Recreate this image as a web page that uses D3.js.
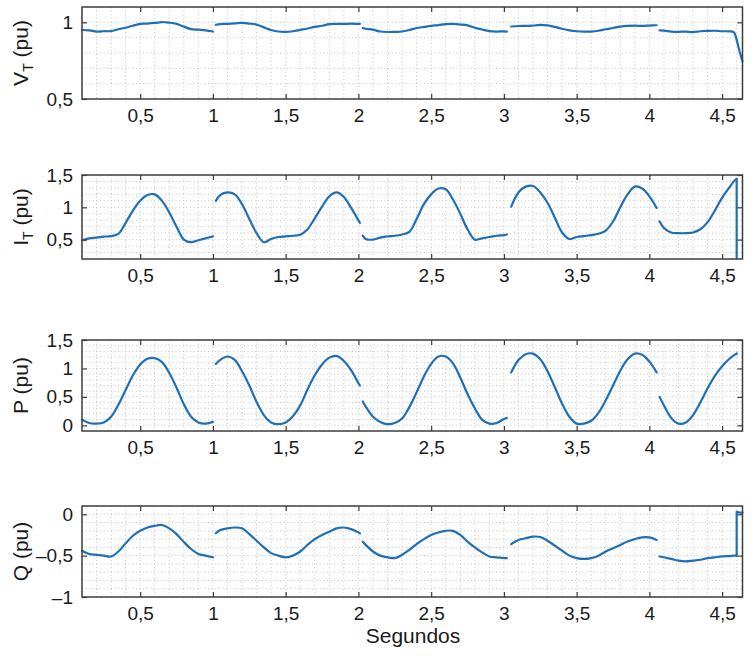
<!DOCTYPE html>
<html><head><meta charset="utf-8">
<script src="https://cdn.jsdelivr.net/npm/d3@7"></script>
<style>body{margin:0;background:#fff}text{font-family:"Liberation Sans",Arial,sans-serif;fill:#1a1a1a}</style>
</head><body><svg id="c" width="754" height="660"></svg>
<script>
// shared time axis (s); a null value in a series marks a gap in the record
const time = [
0.10,0.15,0.20,0.25,0.30,0.35,0.40,0.45,0.50,0.55,0.60,0.65,0.70,0.75,0.80,0.85,0.90,0.95,1.00,
1.01,
1.02,1.05,1.10,1.15,1.20,1.25,1.30,1.35,1.40,1.45,1.50,1.55,1.60,1.65,1.70,1.75,1.80,1.85,1.90,1.95,2.00,2.01,
2.02,
2.03,2.05,2.10,2.15,2.20,2.25,2.30,2.35,2.40,2.45,2.50,2.55,2.60,2.65,2.70,2.75,2.80,2.85,2.90,2.95,3.00,3.02,
3.035,
3.05,3.10,3.15,3.20,3.25,3.30,3.35,3.40,3.45,3.50,3.55,3.60,3.65,3.70,3.75,3.80,3.85,3.90,3.95,4.00,4.05,
4.06,
4.07,4.10,4.15,4.20,4.25,4.30,4.35,4.40,4.45,4.50,4.55,4.58,4.60,4.60,4.62,4.64];

const vtValues = [
0.950,0.948,0.940,0.942,0.943,0.955,0.965,0.978,0.990,0.992,0.996,1.002,0.998,0.990,0.972,0.956,0.952,0.948,0.940,
null,
0.984,0.988,0.990,0.993,0.997,0.992,0.985,0.967,0.950,0.940,0.938,0.942,0.951,0.960,0.970,0.978,0.988,0.990,0.990,0.991,0.990,0.990,
null,
0.962,0.958,0.952,0.940,0.937,0.938,0.940,0.950,0.963,0.970,0.977,0.982,0.988,0.990,0.986,0.980,0.965,0.953,0.943,0.940,0.941,0.940,
null,
0.973,0.976,0.977,0.978,0.984,0.980,0.970,0.958,0.948,0.942,0.940,0.940,0.945,0.955,0.963,0.972,0.977,0.978,0.977,0.979,0.981,
null,
0.947,0.946,0.940,0.938,0.940,0.936,0.942,0.944,0.945,0.942,0.941,0.935,0.886,0.886,0.810,0.745];

const itValues = [
0.49,0.52,0.53,0.545,0.555,0.59,0.76,0.95,1.10,1.19,1.20,1.10,0.92,0.70,0.50,0.46,0.49,0.52,0.55,
null,
1.10,1.19,1.23,1.20,1.05,0.82,0.60,0.46,0.51,0.54,0.55,0.56,0.575,0.66,0.83,1.01,1.17,1.23,1.16,0.99,0.80,0.76,
null,
0.56,0.51,0.50,0.53,0.55,0.56,0.58,0.62,0.82,1.05,1.20,1.29,1.28,1.12,0.90,0.66,0.50,0.52,0.54,0.56,0.57,0.58,
null,
1.01,1.23,1.32,1.33,1.23,1.07,0.84,0.61,0.51,0.54,0.555,0.57,0.59,0.64,0.78,1.00,1.20,1.32,1.29,1.17,0.99,
null,
0.78,0.68,0.61,0.60,0.60,0.61,0.66,0.77,0.95,1.15,1.31,1.40,1.44,0.21,null,null];

const pValues = [
0.10,0.04,0.03,0.05,0.15,0.36,0.62,0.88,1.07,1.17,1.18,1.11,0.92,0.66,0.37,0.15,0.05,0.03,0.06,
null,
1.08,1.15,1.21,1.15,0.95,0.70,0.41,0.18,0.05,0.02,0.05,0.16,0.35,0.63,0.88,1.07,1.19,1.22,1.13,0.97,0.74,0.70,
null,
0.42,0.33,0.15,0.06,0.02,0.04,0.12,0.32,0.58,0.86,1.08,1.21,1.21,1.09,0.84,0.55,0.30,0.10,0.03,0.04,0.11,0.13,
null,
0.93,1.15,1.25,1.26,1.16,0.95,0.67,0.38,0.15,0.03,0.03,0.08,0.22,0.44,0.70,0.96,1.16,1.26,1.24,1.12,0.93,
null,
0.50,0.35,0.13,0.03,0.05,0.18,0.40,0.65,0.87,1.04,1.17,1.23,1.26,null,null,null];

const qValues = [
-0.44,-0.48,-0.49,-0.50,-0.51,-0.45,-0.35,-0.26,-0.20,-0.16,-0.14,-0.13,-0.17,-0.24,-0.335,-0.42,-0.48,-0.50,-0.52,
null,
-0.23,-0.19,-0.17,-0.16,-0.17,-0.24,-0.32,-0.40,-0.47,-0.50,-0.52,-0.50,-0.45,-0.37,-0.30,-0.25,-0.21,-0.17,-0.16,-0.18,-0.22,-0.23,
null,
-0.33,-0.37,-0.45,-0.50,-0.52,-0.53,-0.49,-0.43,-0.36,-0.30,-0.25,-0.22,-0.20,-0.20,-0.25,-0.33,-0.40,-0.46,-0.51,-0.52,-0.53,-0.53,
null,
-0.36,-0.31,-0.29,-0.27,-0.275,-0.32,-0.38,-0.44,-0.50,-0.53,-0.54,-0.53,-0.50,-0.45,-0.41,-0.37,-0.33,-0.30,-0.28,-0.28,-0.31,
null,
-0.51,-0.52,-0.54,-0.56,-0.57,-0.56,-0.55,-0.53,-0.52,-0.51,-0.505,-0.50,-0.50,0.03,0.02,0.02];

const xTicks = [0.5,1,1.5,2,2.5,3,3.5,4,4.5];
const vtTicks = [0.5,1];
const itTicks = [0.5,1,1.5];
const pTicks = [0,0.5,1,1.5];
const qTicks = [-1,-0.5,0];
const xLabel = "Segundos";

const svg = d3.select("#c");
const L = 82, R = 742.5;
const x = d3.scaleLinear().domain([0.1, 4.64]).range([L, R]);
const fmt = d => String(d).replace(".", ",").replace("-", "\u2013");

const panels = [
  {main:"V", sub:"T", rest:" (pu)", values:vtValues, domain:[0.5,1.1], ticks:vtTicks, top:7, bottom:99},
  {main:"I", sub:"T", rest:" (pu)", values:itValues, domain:[0.2,1.5], ticks:itTicks, top:175, bottom:259},
  {main:"P", sub:"", rest:" (pu)", values:pValues, domain:[-0.1,1.5], ticks:pTicks, top:340, bottom:431},
  {main:"Q", sub:"", rest:" (pu)", values:qValues, domain:[-1,0.1], ticks:qTicks, top:506, bottom:597}
];
const frameColor = "#3c3c3c";
const gridColor = "#c2c2c2";
// index of the first repeated time stamp (the final step change of the record)
const stepIdx = time.findIndex((t, i) => i > 0 && t === time[i - 1]);

panels.forEach(p => {
  const y = d3.scaleLinear().domain(p.domain).range([p.bottom, p.top]);
  const g = svg.append("g");
  // grid (every 0.1)
  const xg = d3.range(2, 47).map(i => i / 10).filter(v => v > 0.1 && v < 4.64);
  const yg = d3.range(Math.round(p.domain[0]*10)+1, Math.round(p.domain[1]*10)).map(i => i / 10);
  g.selectAll(".gx").data(xg).join("line")
    .attr("x1", d => x(d)).attr("x2", d => x(d)).attr("y1", p.top).attr("y2", p.bottom)
    .attr("stroke", gridColor).attr("stroke-width", 1).attr("stroke-dasharray", "1,2.6");
  g.selectAll(".gy").data(yg).join("line")
    .attr("y1", d => y(d)).attr("y2", d => y(d)).attr("x1", L).attr("x2", R)
    .attr("stroke", gridColor).attr("stroke-width", 1).attr("stroke-dasharray", "1,2.6");

  // data line: smooth curve for the record, straight segments for the final step
  const pts = time.map((t, i) => [t, p.values[i]]);
  const smooth = d3.line().defined(d => d[1] !== null).x(d => x(d[0])).y(d => y(d[1]))
    .curve(d3.curveCatmullRom.alpha(0.5));
  const straight = d3.line().defined(d => d[1] !== null).x(d => x(d[0])).y(d => y(d[1]));
  [[smooth, pts.slice(0, stepIdx)], [straight, pts.slice(stepIdx - 1)]].forEach(([gen, d]) => {
    g.append("path").datum(d).attr("d", gen)
      .attr("fill", "none").attr("stroke", "#1f6fb7").attr("stroke-width", 2.2)
      .attr("stroke-linejoin", "round").attr("stroke-linecap", "round");
  });

  // axes (inward ticks on all sides)
  const bottomAx = d3.axisBottom(x).tickValues(xTicks).tickSize(-5).tickFormat(fmt).tickPadding(10);
  const gb = g.append("g").attr("transform", `translate(0,${p.bottom})`).call(bottomAx);
  const topAx = d3.axisTop(x).tickValues(xTicks).tickSize(-5).tickFormat("");
  const gt = g.append("g").attr("transform", `translate(0,${p.top})`).call(topAx);
  const leftAx = d3.axisLeft(y).tickValues(p.ticks).tickSize(-5).tickFormat(fmt).tickPadding(9);
  const gl = g.append("g").attr("transform", `translate(${L},0)`).call(leftAx);
  const rightAx = d3.axisRight(y).tickValues(p.ticks).tickSize(-5).tickFormat("");
  const gr = g.append("g").attr("transform", `translate(${R},0)`).call(rightAx);
  [gb, gt, gl, gr].forEach(a => {
    a.select(".domain").remove();
    a.selectAll("line").attr("stroke", frameColor).attr("stroke-width", 1.2);
    a.selectAll("text").attr("font-size", 19).style("fill", "#1a1a1a")
      .attr("font-family", '"Liberation Sans", Arial, sans-serif');
  });
  g.append("rect").attr("x", L).attr("y", p.top).attr("width", R - L).attr("height", p.bottom - p.top)
    .attr("fill", "none").attr("stroke", frameColor).attr("stroke-width", 1.5);

  // y label
  const lab = g.append("text")
    .attr("transform", `translate(28,${(p.top + p.bottom) / 2}) rotate(-90)`)
    .attr("text-anchor", "middle").attr("font-size", 21);
  lab.append("tspan").text(p.main);
  if (p.sub) {
    lab.append("tspan").attr("dy", 5).attr("font-size", 14).text(p.sub);
    lab.append("tspan").attr("dy", -5).text(p.rest);
  } else {
    lab.append("tspan").text(p.rest);
  }
});

svg.append("text").attr("x", 413).attr("y", 643).attr("text-anchor", "middle")
  .attr("font-size", 21).text(xLabel);
</script></body></html>
